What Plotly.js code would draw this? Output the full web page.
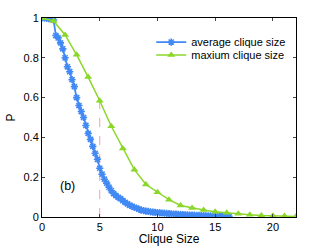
<!DOCTYPE html>
<html>
<head>
<meta charset="utf-8">
<script src="https://cdn.plot.ly/plotly-3.0.1.min.js"></script>
<style>html,body{margin:0;padding:0;background:#fff;}#chart{width:327px;height:246px;}</style>
</head>
<body>
<div id="chart"></div>
<script>
// average clique size (blue)
const avgX = [0,0.2,0.4,0.6,0.8,1.0,1.2,1.4,1.6,1.8,2.0,2.2,2.4,2.6,2.8,3.0,3.2,3.4,3.6,3.8,4.0,4.2,4.4,4.6,4.8,5.0,5.2,5.4,5.6,5.8,6.0,6.2,6.4,6.6,6.8,7.0,7.2,7.4,7.6,7.8,8.0,8.2,8.4,8.6,8.8,9.0,9.2,9.4,9.6,9.8,10.0,10.2,10.4,10.6,10.8,11.0,11.2,11.4,11.6,11.8,12.0,12.2,12.4,12.6,12.8,13.0,13.2,13.4,13.6,13.8,14.0,14.2,14.4,14.6,14.8,15.0,15.2,15.4,15.6,15.8,16.0,16.2];
const avgP = [1.0,1.0,0.998,0.997,0.995,0.99,0.912,0.90,0.875,0.845,0.80,0.755,0.73,0.69,0.655,0.60,0.56,0.53,0.50,0.46,0.42,0.39,0.355,0.32,0.29,0.245,0.215,0.19,0.17,0.15,0.132,0.118,0.108,0.099,0.092,0.082,0.074,0.066,0.059,0.053,0.048,0.044,0.039,0.035,0.032,0.030,0.028,0.026,0.025,0.023,0.022,0.021,0.020,0.019,0.018,0.017,0.016,0.015,0.014,0.013,0.013,0.012,0.011,0.011,0.010,0.009,0.009,0.008,0.008,0.007,0.007,0.006,0.006,0.006,0.005,0.005,0.005,0.004,0.004,0.004,0.004,0.003];
// maximum clique size (green)
const maxX = [0,1,2,3,4,5,6,7,8,9,10,11,12,13,14,15,16,17,18,19,20,21,22];
const maxP = [1.0,0.985,0.915,0.815,0.703,0.584,0.456,0.344,0.238,0.163,0.124,0.087,0.058,0.045,0.035,0.027,0.021,0.016,0.011,0.008,0.006,0.005,0.003];
const xTicks = [0,5,10,15,20];
const yTicks = [0,0.2,0.4,0.6,0.8,1];
const yTickText = ['0','0.2','0.4','0.6','0.8','1'];
const markX = 5;
const markP = maxP[5];

const blue = '#4189f4';
const green = '#8ad72a';

const traces = [
  {x: avgX, y: avgP, type: 'scatter', mode: 'lines+markers', name: 'average clique size', legend: 'legend',
   line: {color: blue, width: 1.8},
   marker: {symbol: 'asterisk-open', size: 6, color: blue, line: {color: blue, width: 1.6}}},
  {x: maxX, y: maxP, type: 'scatter', mode: 'lines+markers', name: 'maxium clique size', legend: 'legend2',
   line: {color: green, width: 1.5},
   marker: {symbol: 'triangle-up', size: 7, color: green}}
];

const legendCommon = {xanchor: 'left', yanchor: 'middle', bgcolor: 'rgba(0,0,0,0)',
                      font: {size: 11}, itemwidth: 30, borderwidth: 0};

const layout = {
  width: 327, height: 246,
  margin: {l: 42, r: 31, t: 18, b: 29},
  paper_bgcolor: '#fff', plot_bgcolor: '#fff',
  font: {family: 'Liberation Sans, Arial, sans-serif', size: 11, color: '#000'},
  showlegend: true,
  legend: Object.assign({x: 0.43, y: 0.879}, legendCommon),
  legend2: Object.assign({x: 0.43, y: 0.814}, legendCommon),
  xaxis: {range: [0, 22], tickvals: xTicks, ticks: 'inside', ticklen: 3, showgrid: false, zeroline: false,
          showline: true, linecolor: '#000', linewidth: 1, mirror: 'ticks',
          title: {text: 'Clique Size', font: {size: 12}, standoff: 2}},
  yaxis: {range: [0, 1], tickvals: yTicks, ticktext: yTickText, ticks: 'inside', ticklen: 3, showgrid: false, zeroline: false,
          showline: true, linecolor: '#000', linewidth: 1, mirror: 'ticks',
          title: {text: 'P', font: {size: 12}, standoff: 5}},
  shapes: [
    {type: 'line', xref: 'x', yref: 'y', x0: markX, x1: markX, y0: 0, y1: markP,
     line: {color: '#f0a0b4', width: 1, dash: 'dash'}, layer: 'below'}
  ],
  annotations: [
    {xref: 'x', yref: 'y', x: 2.2, y: 0.155, text: '(b)', showarrow: false, font: {size: 12.5}}
  ]
};

Plotly.newPlot('chart', traces, layout, {displayModeBar: false, staticPlot: true});
</script>
</body>
</html>
